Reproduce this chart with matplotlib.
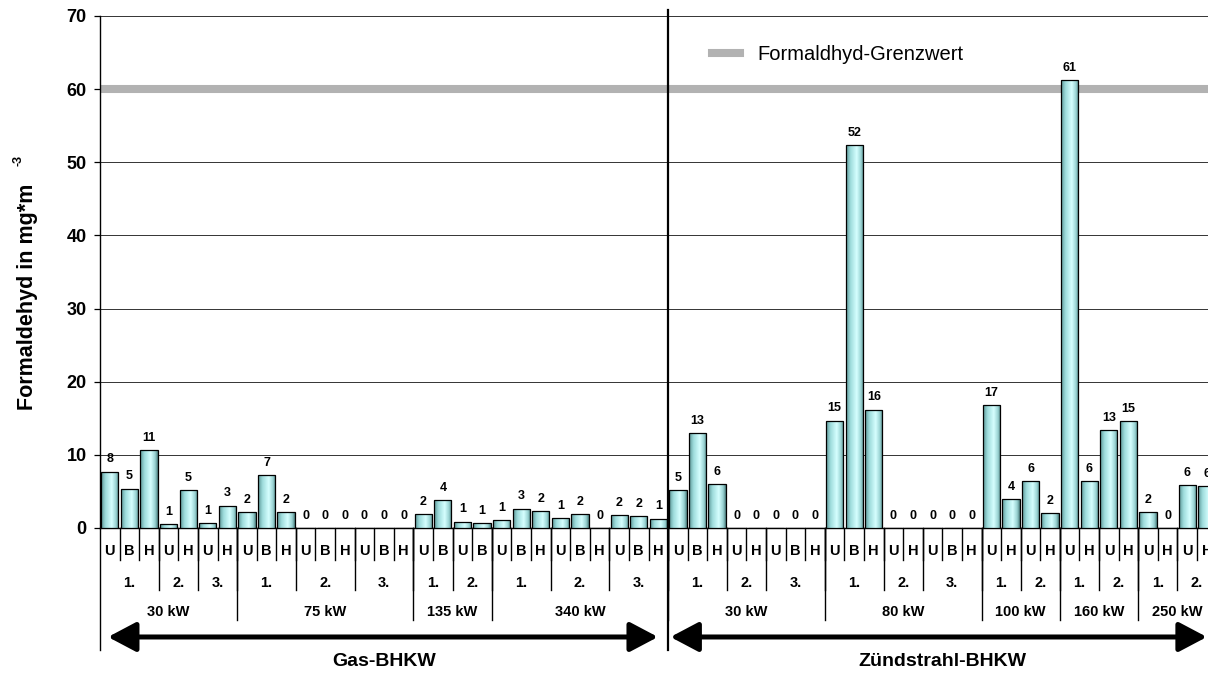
import numpy as np
import matplotlib
matplotlib.use('Agg')
import matplotlib.pyplot as plt
from matplotlib.colors import LinearSegmentedColormap

plt.rcParams['font.family'] = ['Liberation Sans', 'DejaVu Sans']

# Messstellen (U/B/H) und Formaldehyd-Werte je Balken
messstelle = ['U', 'B', 'H', 'U', 'H', 'U', 'H',
              'U', 'B', 'H', 'U', 'B', 'H', 'U', 'B', 'H',
              'U', 'B', 'U', 'B',
              'U', 'B', 'H', 'U', 'B', 'H', 'U', 'B', 'H',
              'U', 'B', 'H', 'U', 'H', 'U', 'B', 'H',
              'U', 'B', 'H', 'U', 'H', 'U', 'B', 'H',
              'U', 'H', 'U', 'H',
              'U', 'H', 'U', 'H',
              'U', 'H', 'U', 'H']
werte = [7.7, 5.4, 10.6, 0.55, 5.15, 0.65, 3.05,
         2.14, 7.2, 2.14, 0, 0, 0, 0, 0, 0,
         1.87, 3.83, 0.87, 0.64,
         1.05, 2.64, 2.32, 1.32, 1.87, 0, 1.73, 1.6, 1.28,
         5.15, 12.94, 5.97, 0, 0, 0, 0, 0,
         14.67, 52.3, 16.2, 0, 0, 0, 0, 0,
         16.8, 3.96, 6.38, 2.0,
         61.25, 6.45, 13.4, 14.6,
         2.14, 0, 5.88, 5.7]

# Durchlaeufe (1., 2., 3.) mit Anzahl Balken
lauf = ['1.', '2.', '3.', '1.', '2.', '3.', '1.', '2.', '1.', '2.', '3.',
        '1.', '2.', '3.', '1.', '2.', '3.', '1.', '2.', '1.', '2.', '1.', '2.']
lauf_n = [3, 2, 2, 3, 3, 3, 2, 2, 3, 3, 3,
          3, 2, 3, 3, 2, 3, 2, 2, 2, 2, 2, 2]

# Leistung mit Anzahl Durchlaeufe
leistung = ['30 kW', '75 kW', '135 kW', '340 kW',
            '30 kW', '80 kW', '100 kW', '160 kW', '250 kW']
leistung_n = [3, 3, 2, 3, 3, 3, 2, 2, 2]

anlage = ['Gas-BHKW', 'Zündstrahl-BHKW']
anlage_n = [4, 5]

grenzwert = 60

fig = plt.figure(figsize=(12.08, 6.73), dpi=100)
ax = fig.add_axes([100/1208, 145/673, 1108/1208, 512/673])

x = np.arange(len(werte))
cyl = LinearSegmentedColormap.from_list('cyl', [(0, '#5e9898'), (0.25, '#9edcdc'),
                                                (0.6, '#d6ffff'), (0.85, '#98d2d2'),
                                                (1, '#4e8282')])
grad = np.linspace(0, 1, 64).reshape(1, -1)

bars = ax.bar(x, werte, width=0.88, facecolor='none', edgecolor='black',
              linewidth=0.9, zorder=4)
for b, v in zip(bars, werte):
    if v > 0:
        im = ax.imshow(grad, extent=[b.get_x(), b.get_x() + b.get_width(), 0, v],
                       cmap=cyl, aspect='auto', zorder=3, interpolation='bilinear')
        im.set_clip_path(b)
    ax.annotate(f'{v:.0f}', (b.get_x() + b.get_width()/2, v), xytext=(0, 4.5),
                textcoords='offset points', ha='center', va='bottom',
                fontsize=9, fontweight='bold', zorder=5)

ax.axhline(grenzwert, color='#b2b2b2', lw=5.8, zorder=2, label='Formaldhyd-Grenzwert')

ax.set_xlim(-0.5, 56.06)
ax.set_ylim(0, 70)
ax.set_yticks(np.arange(0, 71, 10))
ax.set_xticks([])
ax.grid(axis='y', color='#333333', lw=0.7, zorder=1)
ax.set_axisbelow(True)
for s in ['top', 'right']:
    ax.spines[s].set_visible(False)
ax.spines['left'].set_linewidth(1.0)
ax.spines['bottom'].set_linewidth(1.0)
ax.tick_params(axis='y', direction='out', length=4.5, width=0.9, pad=5,
               labelsize=13)
for t in ax.get_yticklabels():
    t.set_fontweight('bold')

# Kategorientabelle unter der Achse
y_let, y_lauf, y_leist = -3.2, -7.5, -11.45
e_let, e_lauf, e_leist, e_ges = -4.375, -8.48, -12.58, -16.7
kw = dict(color='black', lw=1.0, clip_on=False, zorder=5)

for i, m in enumerate(messstelle):
    ax.text(i, y_let, m, ha='center', va='center', fontsize=10.5, fontweight='bold')
    if i < len(messstelle) - 1:
        ax.plot([i + 0.5, i + 0.5], [0, e_let], **kw)

pos = 0
lauf_bounds = []
for l, n in zip(lauf, lauf_n):
    ax.text(pos + (n - 1)/2, y_lauf, l, ha='center', va='center',
            fontsize=10.5, fontweight='bold')
    pos += n
    lauf_bounds.append(pos - 0.5)
    if pos < len(werte):
        ax.plot([pos - 0.5, pos - 0.5], [0, e_lauf], **kw)

k = 0
leist_bounds = []
for l, n in zip(leistung, leistung_n):
    start = lauf_bounds[k - 1] if k > 0 else -0.5
    end = lauf_bounds[k + n - 1]
    ax.text((start + end)/2, y_leist, l, ha='center', va='center',
            fontsize=10.5, fontweight='bold')
    k += n
    leist_bounds.append(end)
    if end < len(werte) - 1:
        ax.plot([end, end], [0, e_leist], **kw)

ax.plot([-0.5, -0.5], [0, e_ges], **kw)

k = 0
for a, n in zip(anlage, anlage_n):
    start = leist_bounds[k - 1] if k > 0 else -0.5
    end = leist_bounds[k + n - 1]
    ax.text((start + end)/2, -18.3, a, ha='center', va='center',
            fontsize=14, fontweight='bold')
    k += n
    if k == anlage_n[0]:
        ax.plot([end, end], [70.8, e_ges], color='black', lw=1.6, clip_on=False, zorder=6)

arrow = dict(arrowstyle='<|-|>,head_length=0.85,head_width=0.45', mutation_scale=20,
             lw=3.6, color='black', shrinkA=0, shrinkB=0)
ax.annotate('', xy=(-0.09, -14.9), xytext=(27.98, -14.9), arrowprops=arrow,
            annotation_clip=False)
ax.annotate('', xy=(28.62, -14.9), xytext=(56.0, -14.9), arrowprops=arrow,
            annotation_clip=False)

ax.legend(loc='center left', bbox_to_anchor=((712 - 100)/1108, (528 - 55)/512),
          frameon=False, fontsize=14.5, handlelength=1.4, handletextpad=0.85,
          borderpad=0, borderaxespad=0)

fig.text(28/1208, 1 - 297/673, 'Formaldehyd in mg*m', rotation=90, ha='center',
         va='center', fontsize=15.5, fontweight='bold')
fig.text(18/1208, 1 - 160/673, '-3', rotation=90, ha='center', va='center',
         fontsize=9, fontweight='bold')

fig.savefig('out.png', dpi=100)
